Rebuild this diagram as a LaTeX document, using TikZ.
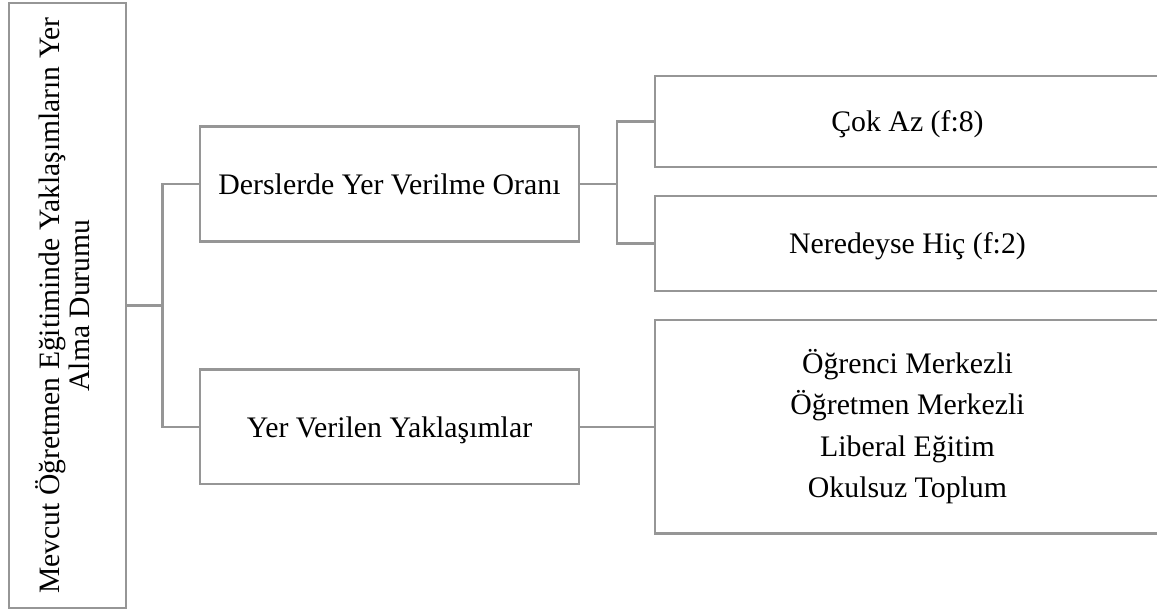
\documentclass[tikz,border=0pt]{standalone}
\usepackage{fontspec}
\setmainfont{Liberation Serif}
\definecolor{ln}{RGB}{150,150,150}
\tikzset{
  box/.style={draw=ln, line width=2.2pt, rectangle, inner sep=0pt, fill=white,
    font=\fontsize{29.8}{35}\selectfont, text=black},
  onel/.style={text height=20.5pt, text depth=0pt},
  conn/.style={draw=ln, line width=2.2pt}
}
\begin{document}
\begin{tikzpicture}[x=1pt,y=-1pt]
\useasboundingbox (0,0) rectangle (1157,612);
\clip (0,0) rectangle (1157,612);
\fill[white] (0,0) rectangle (1157,612);
% root
\node[box, minimum width=117pt, minimum height=605pt] (L) at (67.5,305.5)
  {\rotatebox{90}{\fontsize{29.6}{30}\selectfont\begin{tabular}{@{}c@{}}Mevcut Öğretmen Eğitiminde Yaklaşımların Yer\\ Alma Durumu\end{tabular}}};
% level 2
\node[box, onel, minimum width=379pt, minimum height=115pt] (B2) at (389.5,184) {Derslerde Yer Verilme Oranı};
\node[box, onel, minimum width=379pt, minimum height=114.5pt] (B3) at (389.5,426.75) {Yer Verilen Yaklaşımlar};
% level 3
\node[box, onel, minimum width=505pt, minimum height=91pt] (B4) at (907.5,121.5) {Çok Az (f:8)};
\node[box, onel, minimum width=505pt, minimum height=95pt] (B5) at (907.5,243.5) {Neredeyse Hiç (f:2)};
\node[box, align=center, font=\fontsize{29.8}{41.3}\selectfont, minimum width=505pt, minimum height=213.5pt] (B6) at (907.5,426.75)
  {Öğrenci Merkezli\\Öğretmen Merkezli\\Liberal Eğitim\\Okulsuz Toplum};
% junctions
\coordinate (j1) at (162.5,305.5);
\coordinate (j2) at (617,184);
% connectors
\draw[conn] (L.east) -- (j1);
\draw[conn] (B2.west) -| (j1) |- (B3.west);
\draw[conn] (B2.east) -- (j2);
\draw[conn] (B4.west) -| (j2) |- (B5.west);
\draw[conn] (B3.east) -- (B6.west);
\end{tikzpicture}
\end{document}
